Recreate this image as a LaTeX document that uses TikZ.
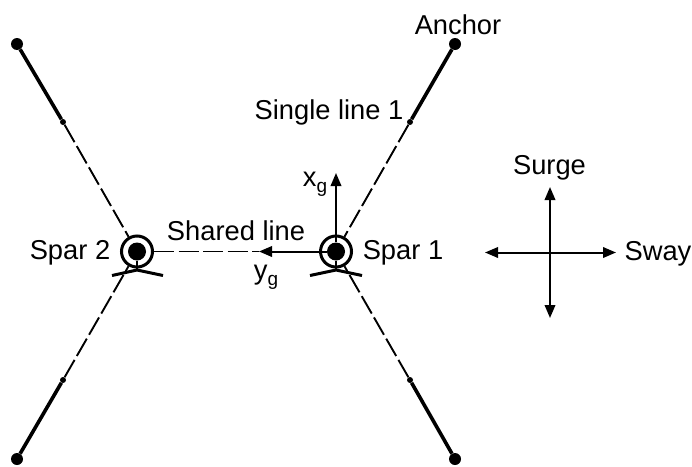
\documentclass[tikz,border=0pt]{standalone}
\usepackage{fontspec}
\setmainfont{Liberation Sans}
\usetikzlibrary{arrows.meta}
\newcommand{\subg}{\raisebox{-6pt}{\fontsize{19}{20}\selectfont g}}
\tikzset{
 x=1pt,y=-1pt,
 lbl/.style={inner sep=0pt,font=\fontsize{27.3}{29}\selectfont,text=black},
 dotn/.style={circle,fill=black,inner sep=0pt,minimum size=#1},
 heavy/.style={line width=3.6pt},
 dashline/.style={line width=1.9pt,dash pattern=on 20pt off 4.5pt},
 arr/.style={line width=2pt,-{Triangle[length=13pt,width=10.5pt]}},
 darr/.style={line width=2pt,{Triangle[length=13pt,width=10.5pt]}-{Triangle[length=13pt,width=10.5pt]}},
 ring/.style={circle,draw=black,line width=3pt,inner sep=0pt,minimum size=#1},
}
\begin{document}
\begin{tikzpicture}
\useasboundingbox (0,0) rectangle (692,466);
% spars
\node[ring=31pt] (s1r) at (336,251.5) {};
\node[dotn=18pt] (s1c) at (336,251.5) {};
\node[ring=31pt] (s2r) at (137,251.5) {};
\node[dotn=18pt] (s2c) at (137,251.5) {};
% anchors and fairlead dots
\node[dotn=12pt] (a1) at (455,44) {};
\node[dotn=12pt] (a2) at (455,459) {};
\node[dotn=12pt] (a3) at (17,44) {};
\node[dotn=12pt] (a4) at (17,459) {};
\node[dotn=6pt] (m1) at (410,122) {};
\node[dotn=6pt] (m2) at (410,380) {};
\node[dotn=6pt] (m3) at (63,122) {};
\node[dotn=6pt] (m4) at (63,380) {};
% heavy line parts
\draw[heavy] (a1) -- (m1);
\draw[heavy] (a2) -- (m2);
\draw[heavy] (a3) -- (m3);
\draw[heavy] (a4) -- (m4);
% dashed parts
\draw[dashline] (m1) -- (s1r);
\draw[dashline] (m2) -- (s1r);
\draw[dashline] (m3) -- (s2r);
\draw[dashline] (m4) -- (s2r);
\coordinate (yg) at (259,251.5);
\draw[dashline] (s2r) -- (yg);
% anchor feet
\coordinate (f1l) at (310,275.5);
\coordinate (f1m) at (336,270);
\coordinate (f1r) at (362,275.5);
\coordinate (f2l) at (112,275.5);
\coordinate (f2m) at (137,270);
\coordinate (f2r) at (163,275.5);
\draw[line width=3pt,line join=round] (f1l) -- (f1m) -- (f1r);
\draw[line width=3pt,line join=round] (f2l) -- (f2m) -- (f2r);
\draw[line width=2.6pt] (s1c) -- (f1m);
\draw[line width=2.6pt] (s2c) -- (f2m);
% local axes
\coordinate (xg) at (336,173);
\draw[arr] (s1c) -- (xg);
\draw[arr] (s1c) -- (yg);
% motion cross
\coordinate (crossT) at (550,187);
\coordinate (crossB) at (550,318);
\coordinate (crossL) at (485,252.5);
\coordinate (crossR) at (616,252.5);
\draw[darr] (crossB) -- (crossT);
\draw[darr] (crossL) -- (crossR);
% labels
\node[lbl] (tAnchor) at (458,25) {Anchor};
\node[lbl] (tSingle) at (329,112.5) {Single line 1};
\node[lbl] (tShared) at (236,230.5) {Shared line};
\node[lbl] (tSpar2) at (70,253) {Spar 2};
\node[lbl] (tSpar1) at (403,253) {Spar 1};
\node[lbl] (tXg) at (315,184) {x\subg};
\node[lbl] (tYg) at (266,277) {y\subg};
\node[lbl] (tSurge) at (549.5,167.5) {Surge};
\node[lbl] (tSway) at (658,253.5) {Sway};
\end{tikzpicture}
\end{document}
